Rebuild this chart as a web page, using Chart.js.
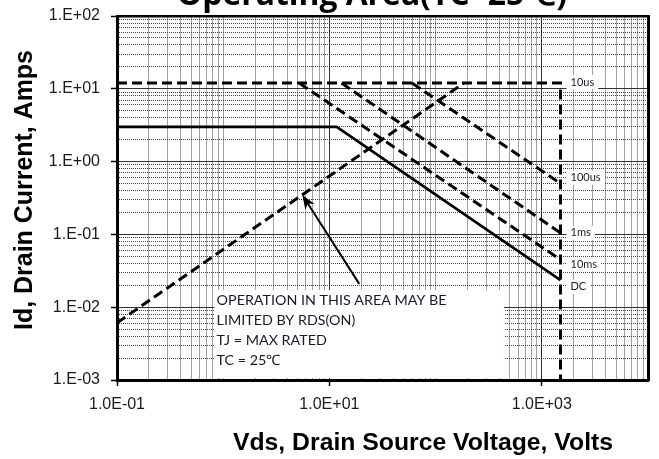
<!DOCTYPE html>
<html>
<head>
<meta charset="utf-8">
<script src="https://cdn.jsdelivr.net/npm/chart.js@4.4.1/dist/chart.umd.min.js"></script>
<style>
  html, body { margin: 0; padding: 0; background: #fff; }
</style>
</head>
<body>
<canvas id="soa" width="659" height="459"></canvas>
<script>
// SOA curves, volts / amps
const dcV = [0.1, 11.7, 1500];
const dcI = [3, 3, 0.0235];
const us10V = [0.1, 1500, 1500];
const us10I = [12, 12, 0.001];
const us100V = [60, 1500];
const us100I = [12, 0.5];
const ms1V = [13, 1500];
const ms1I = [12, 0.105];
const ms10V = [5.2, 1500];
const ms10I = [12, 0.045];
const rdsV = [0.1, 185];
const rdsI = [0.0061, 12];

const curveNames = ["10us", "100us", "1ms", "10ms", "DC"];
const curveLabelI = [12.4, 0.6, 0.105, 0.039, 0.019];

const xMajor = [0.1, 10, 1000];
const xTickLabels = ["1.0E-01", "1.0E+01", "1.0E+03"];
const yMajor = [0.001, 0.01, 0.1, 1, 10, 100];
const yTickLabels = ["1.E-03", "1.E-02", "1.E-01", "1.E+00", "1.E+01", "1.E+02"];

const noteLines = [
  "OPERATION IN THIS AREA MAY BE",
  "LIMITED BY RDS(ON)",
  "TJ = MAX RATED",
  "TC = 25\u2103",
];
// note box and arrow anchors, in data units
const noteBoxV = [0.83, 440];
const noteBoxTopI = 0.0172;
const arrowV = [19.1, 5.57];
const arrowI = [0.0209, 0.347];

const X_MIN = 0.1, X_MAX = 10000, Y_MIN = 0.001, Y_MAX = 100;

function pts(vs, is) {
  return vs.map((v, i) => ({ x: v, y: is[i] }));
}

function logGrid(lo, hi) {
  const out = [];
  for (let e = Math.round(Math.log10(lo)); e < Math.round(Math.log10(hi)); e++) {
    for (let m = 1; m < 10; m++) out.push(m * Math.pow(10, e));
  }
  out.push(hi);
  return out;
}

function labelFor(list, labels, v) {
  const i = list.findIndex(t => Math.abs(Math.log10(t / v)) < 1e-6);
  return i < 0 ? "" : labels[i];
}

function fitFont(ctx, text, weight, family, width) {
  ctx.font = `${weight} 20px ${family}`;
  const w = ctx.measureText(text).width;
  return `${weight} ${(20 * width / w).toFixed(2)}px ${family}`;
}

const soaDecor = {
  id: "soaDecor",
  beforeDatasetsDraw(chart) {
    const { ctx, chartArea } = chart;
    const x = chart.scales.x, y = chart.scales.y;
    ctx.save();
    ctx.fillStyle = "#fff";
    // white note box
    const bx1 = x.getPixelForValue(noteBoxV[0]);
    const bx2 = x.getPixelForValue(noteBoxV[1]);
    const by1 = y.getPixelForValue(noteBoxTopI);
    ctx.fillRect(bx1, by1, bx2 - bx1, chartArea.bottom - 2 - by1);
    // label backgrounds
    ctx.font = '11px Lato';
    const lx = x.getPixelForValue(1500) + 10;
    curveNames.forEach((name, i) => {
      const ly = y.getPixelForValue(curveLabelI[i]);
      const w = ctx.measureText(name).width;
      ctx.fillRect(lx - 4, ly - 7, w + 8, 14);
    });
    ctx.restore();
  },
  afterDatasetsDraw(chart) {
    const { ctx } = chart;
    const x = chart.scales.x, y = chart.scales.y;
    ctx.save();
    // curve labels
    ctx.fillStyle = "#1a1a2a";
    ctx.font = '11px Lato';
    ctx.textBaseline = "middle";
    ctx.textAlign = "left";
    const lx = x.getPixelForValue(1500) + 10;
    curveNames.forEach((name, i) => {
      ctx.fillText(name, lx, y.getPixelForValue(curveLabelI[i]));
    });
    // note text
    ctx.font = fitFont(ctx, noteLines[0], "normal", "Lato", 230);
    const tx = x.getPixelForValue(noteBoxV[0]) + 2;
    const ty = y.getPixelForValue(noteBoxTopI) + 10;
    noteLines.forEach((line, i) => ctx.fillText(line, tx, ty + i * 20));
    // arrow
    const ax1 = x.getPixelForValue(arrowV[0]), ay1 = y.getPixelForValue(arrowI[0]);
    const ax2 = x.getPixelForValue(arrowV[1]), ay2 = y.getPixelForValue(arrowI[1]);
    const ang = Math.atan2(ay2 - ay1, ax2 - ax1);
    ctx.strokeStyle = "#000";
    ctx.lineWidth = 2;
    ctx.beginPath();
    ctx.moveTo(ax1, ay1);
    ctx.lineTo(ax2 - 8 * Math.cos(ang), ay2 - 8 * Math.sin(ang));
    ctx.stroke();
    ctx.fillStyle = "#000";
    ctx.beginPath();
    ctx.moveTo(ax2, ay2);
    ctx.lineTo(ax2 - 14 * Math.cos(ang) + 5.5 * Math.sin(ang), ay2 - 14 * Math.sin(ang) - 5.5 * Math.cos(ang));
    ctx.lineTo(ax2 - 10 * Math.cos(ang), ay2 - 10 * Math.sin(ang));
    ctx.lineTo(ax2 - 14 * Math.cos(ang) - 5.5 * Math.sin(ang), ay2 - 14 * Math.sin(ang) + 5.5 * Math.cos(ang));
    ctx.closePath();
    ctx.fill();
    ctx.restore();
  },
  afterDraw(chart) {
    const { ctx } = chart;
    ctx.save();
    ctx.fillStyle = "#000";
    ctx.textAlign = "center";
    // title, its top is cut off by the page edge
    const title = "Operating Area(TC=25\u2103)";
    ctx.font = fitFont(ctx, title, "bold", '"Open Sans"', 390);
    ctx.textBaseline = "alphabetic";
    ctx.fillText(title, 372, 5);
    // axis titles
    ctx.textBaseline = "middle";
    const xt = "Vds, Drain Source Voltage, Volts";
    ctx.font = fitFont(ctx, xt, "bold", '"Liberation Sans", Arial', 380);
    ctx.fillText(xt, 423, 443);
    const yt = "Id, Drain Current, Amps";
    ctx.translate(25, 190);
    ctx.rotate(-Math.PI / 2);
    ctx.font = fitFont(ctx, yt, "bold", '"Liberation Sans", Arial', 280);
    ctx.fillText(yt, 0, 0);
    ctx.restore();
  },
};

const lineBase = {
  fill: false,
  pointRadius: 0,
  tension: 0,
  borderColor: "#000",
  borderJoinStyle: "miter",
  xAxisID: "x",
  yAxisID: "y",
};
const dash = [10, 5];
const tickFont = { family: '"Liberation Sans", Arial', size: 16 };

try {
  new Chart(document.getElementById("soa"), {
    type: "line",
    data: {
      datasets: [
        { ...lineBase, label: "RDS(ON)", data: pts(rdsV, rdsI), borderWidth: 3, borderDash: dash },
        { ...lineBase, label: "10us", data: pts(us10V, us10I), borderWidth: 3, borderDash: dash },
        { ...lineBase, label: "100us", data: pts(us100V, us100I), borderWidth: 3, borderDash: dash },
        { ...lineBase, label: "1ms", data: pts(ms1V, ms1I), borderWidth: 3, borderDash: dash },
        { ...lineBase, label: "10ms", data: pts(ms10V, ms10I), borderWidth: 3, borderDash: dash },
        { ...lineBase, label: "DC", data: pts(dcV, dcI), borderWidth: 2.6 },
      ],
    },
    options: {
      responsive: false,
      animation: false,
      layout: { padding: { left: 0, top: 16, right: 11, bottom: 0 } },
      plugins: { legend: { display: false }, tooltip: { enabled: false } },
      scales: {
        // minor dotted grid, also gives the top / right frame
        xm: {
          type: "logarithmic", position: "top", min: X_MIN, max: X_MAX,
          afterBuildTicks: s => { s.ticks = logGrid(X_MIN, X_MAX).map(v => ({ value: v })); },
          ticks: { display: false },
          grid: { color: "#444", lineWidth: 1, drawTicks: false },
          border: { display: true, color: "#000", width: 2.5, dash: [1, 1] },
        },
        ym: {
          type: "logarithmic", position: "right", min: Y_MIN, max: Y_MAX,
          afterBuildTicks: s => { s.ticks = logGrid(Y_MIN, Y_MAX).map(v => ({ value: v })); },
          ticks: { display: false },
          grid: { color: "#444", lineWidth: 1, drawTicks: false },
          border: { display: true, color: "#000", width: 3, dash: [1, 1] },
        },
        x: {
          type: "logarithmic", position: "bottom", min: X_MIN, max: X_MAX,
          afterBuildTicks: s => { s.ticks = xMajor.map(v => ({ value: v, major: true })); },
          afterFit: s => { s.height = 79; s.paddingLeft = 0; s.paddingRight = 0; },
          ticks: {
            autoSkip: false, maxRotation: 0, padding: 9, color: "#1a1a1a", font: tickFont,
            callback: v => labelFor(xMajor, xTickLabels, v),
          },
          grid: { color: "#333", lineWidth: 1, tickLength: 6, tickColor: "#000", tickWidth: 1.5 },
          border: { display: true, color: "#000", width: 3 },
        },
        y: {
          type: "logarithmic", position: "left", min: Y_MIN, max: Y_MAX,
          afterBuildTicks: s => { s.ticks = yMajor.map(v => ({ value: v, major: true })); },
          afterFit: s => { s.width = 117; s.paddingTop = 0; s.paddingBottom = 0; },
          ticks: {
            autoSkip: false, padding: 11, color: "#1a1a1a", font: tickFont,
            callback: v => labelFor(yMajor, yTickLabels, v),
          },
          grid: { color: "#333", lineWidth: 1, tickLength: 6, tickColor: "#000", tickWidth: 1.5 },
          border: { display: true, color: "#000", width: 3 },
        },
      },
    },
    plugins: [soaDecor],
  });
} catch (error) {
  console.error(`Error creating SOA chart: ${error}`);
}
</script>
</body>
</html>
